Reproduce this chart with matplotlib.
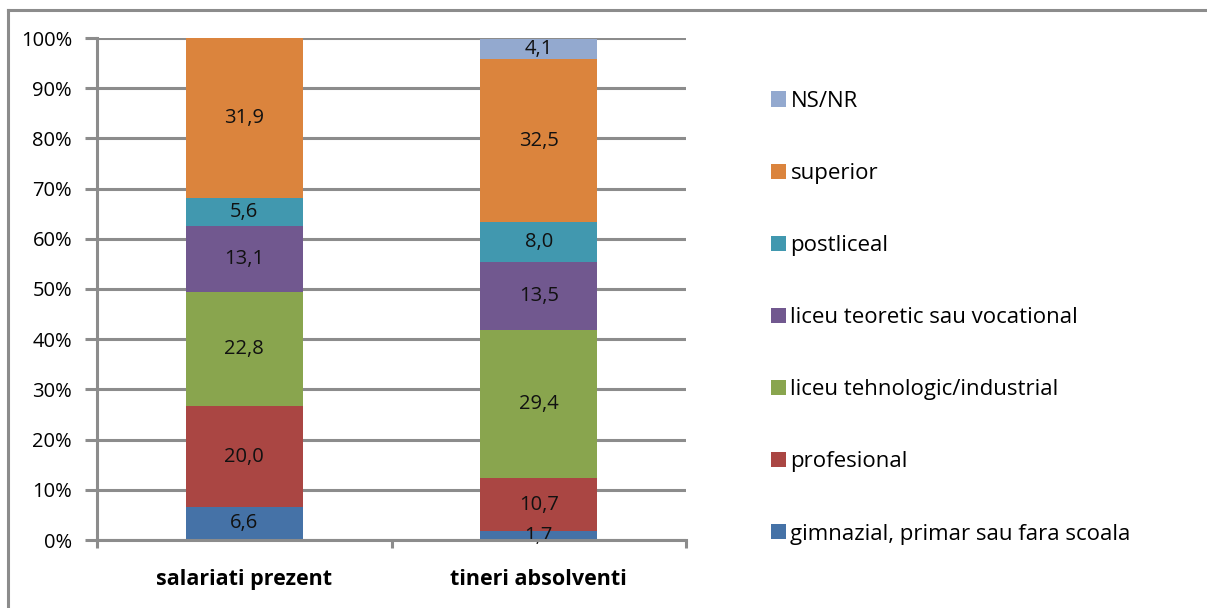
import numpy as np
import matplotlib.pyplot as plt
from matplotlib.lines import Line2D

plt.rcParams['font.family'] = ['Open Sans', 'DejaVu Sans']

grupuri = ['salariati prezent', 'tineri absolventi']
categorii = ['gimnazial, primar sau fara scoala', 'profesional',
             'liceu tehnologic/industrial', 'liceu teoretic sau vocational',
             'postliceal', 'superior', 'NS/NR']
salariati = [6.6, 20.0, 22.8, 13.1, 5.6, 31.9, 0.0]
tineri = [1.7, 10.7, 29.4, 13.5, 8.0, 32.5, 4.1]
culori = ['#4572A7', '#AA4643', '#89A54E', '#71588F', '#4198AF', '#DB843D', '#93A9CF']

valori = np.array([salariati, tineri]).T
gri = '#8c8c8c'

fig = plt.figure(figsize=(12.07, 6.08), dpi=100)
# chenarul exterior (doar marginea de sus si cea din stanga se vad)
xs, ys = 8 / 1207, 1 - 10 / 608
fig.add_artist(Line2D([xs, 1.05], [ys, ys], transform=fig.transFigure, color=gri, lw=2.2))
fig.add_artist(Line2D([xs, xs], [ys, -0.05], transform=fig.transFigure, color=gri, lw=2.2))

ax = fig.add_axes([97 / 1207, (608 - 540) / 608, 589 / 1207, 502 / 608])
x = np.arange(len(grupuri))
jos = np.zeros(len(grupuri))
for i, cat in enumerate(categorii):
    ax.bar(x, valori[i], 0.397, bottom=jos, color=culori[i], label=cat, zorder=3)
    for j in range(len(grupuri)):
        v = valori[i][j]
        if v > 0:
            ax.text(x[j], jos[j] + v / 2, f'{v:.1f}'.replace('.', ','),
                    ha='center', va='center', fontsize=14.5, color='#111111', zorder=4)
    jos += valori[i]

ax.set_xlim(-0.5, 1.5)
ax.set_ylim(0, 100)
ax.set_yticks(np.arange(0, 101, 10))
ax.set_yticklabels([f'{t}%' for t in range(0, 101, 10)], fontsize=14.5)
ax.yaxis.grid(True, color=gri, linewidth=2.2, zorder=0)
ax.set_xticks([-0.5, 0.5, 1.5])
ax.set_xticklabels([])
ax.set_xticks(x, minor=True)
ax.set_xticklabels(grupuri, minor=True, fontsize=15.5, fontweight='bold')
ax.tick_params(axis='x', which='minor', length=0, pad=21)
ax.tick_params(axis='x', which='major', length=6, width=2.2, color=gri)
ax.tick_params(axis='y', length=9, width=2.2, color=gri, pad=9)
for s in ['top', 'right']:
    ax.spines[s].set_visible(False)
for s in ['left', 'bottom']:
    ax.spines[s].set_color(gri)
    ax.spines[s].set_linewidth(2.2)
    ax.spines[s].set_zorder(5)

h, l = ax.get_legend_handles_labels()
fig.legend(h[::-1], l[::-1], loc='upper left', bbox_to_anchor=(762 / 1207, (608 - 82) / 608),
           frameon=False, fontsize=16, handlelength=0.68, handleheight=0.68,
           handletextpad=0.2, labelspacing=2.3, borderaxespad=0)

fig.savefig('out.png', dpi=100)
